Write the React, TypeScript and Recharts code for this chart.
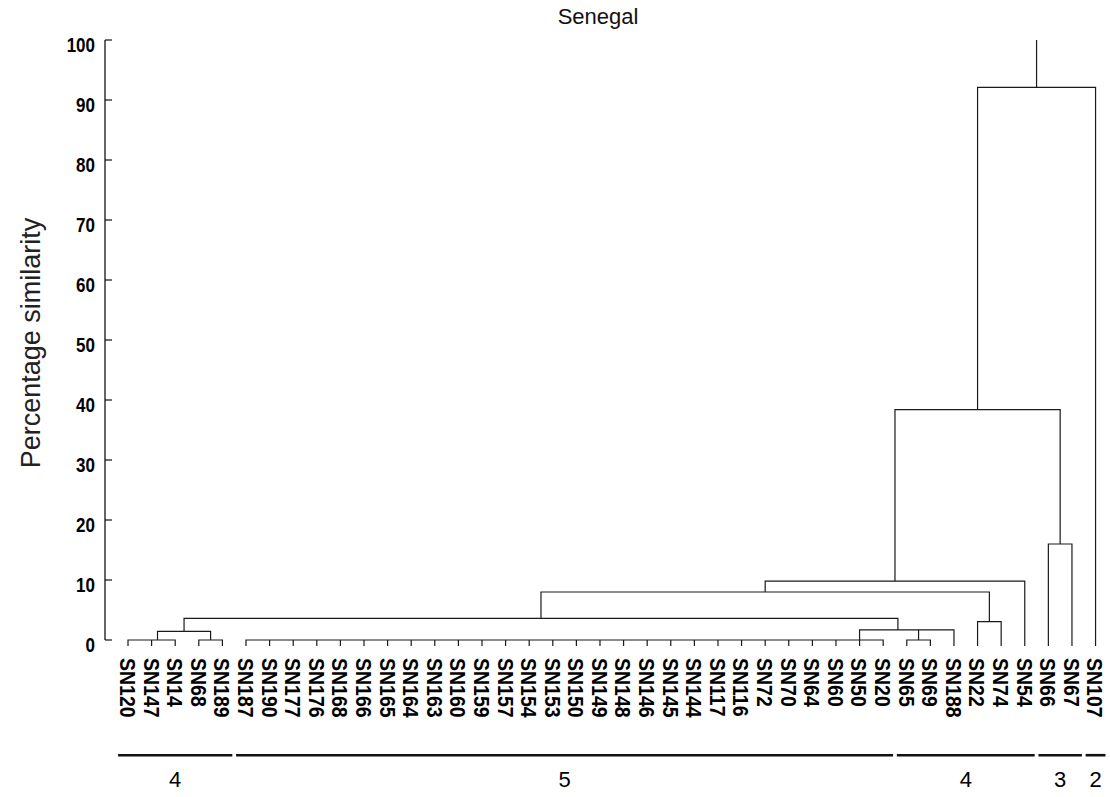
import { LineChart, Line, XAxis, YAxis, ReferenceLine } from 'recharts';

// leaf order along the bottom of the dendrogram
const leaves = [
  'SN120', 'SN147', 'SN14', 'SN68', 'SN189',
  'SN187', 'SN190', 'SN177', 'SN176', 'SN168', 'SN166', 'SN165', 'SN164', 'SN163', 'SN160',
  'SN159', 'SN157', 'SN154', 'SN153', 'SN150', 'SN149', 'SN148', 'SN146', 'SN145', 'SN144',
  'SN117', 'SN116', 'SN72', 'SN70', 'SN64', 'SN60', 'SN50', 'SN20',
  'SN65', 'SN69', 'SN188', 'SN22', 'SN74', 'SN54', 'SN66', 'SN67', 'SN107',
];

// merges: [left, right, similarity %]; '#k' refers to the k-th merge
const merges: [string, string, number][] = [
  ['SN120', 'SN147', 0], // 0
  ['#0', 'SN14', 0],
  ['SN68', 'SN189', 0],
  ['#1', '#2', 1.45],
  ['SN187', 'SN190', 0], // 4
  ['#4', 'SN177', 0],
  ['#5', 'SN176', 0],
  ['#6', 'SN168', 0],
  ['#7', 'SN166', 0],
  ['#8', 'SN165', 0],
  ['#9', 'SN164', 0],
  ['#10', 'SN163', 0],
  ['#11', 'SN160', 0],
  ['#12', 'SN159', 0],
  ['#13', 'SN157', 0],
  ['#14', 'SN154', 0],
  ['#15', 'SN153', 0],
  ['#16', 'SN150', 0],
  ['#17', 'SN149', 0],
  ['#18', 'SN148', 0],
  ['#19', 'SN146', 0],
  ['#20', 'SN145', 0],
  ['#21', 'SN144', 0],
  ['#22', 'SN117', 0],
  ['#23', 'SN116', 0],
  ['#24', 'SN72', 0],
  ['#25', 'SN70', 0],
  ['#26', 'SN64', 0],
  ['#27', 'SN60', 0],
  ['#28', 'SN50', 0],
  ['#29', 'SN20', 0], // 30
  ['SN65', 'SN69', 0],
  ['#31', 'SN188', 1.7],
  ['#30', '#32', 1.7],
  ['#3', '#33', 3.6],
  ['SN22', 'SN74', 3.05], // 35
  ['#34', '#35', 8.0],
  ['#36', 'SN54', 9.8],
  ['SN66', 'SN67', 16.0],
  ['#37', '#38', 38.4],
  ['#39', 'SN107', 92.1], // 40
];

const rootTop = 100;
const yTicks = [0, 10, 20, 30, 40, 50, 60, 70, 80, 90, 100];

// cluster groups shown under the labels
const groupLabels = ['4', '5', '4', '3', '2'];
const groupFirst = ['SN120', 'SN187', 'SN65', 'SN66', 'SN107'];
const groupLast = ['SN189', 'SN20', 'SN54', 'SN67', 'SN107'];

const LEAF_BASE = -1;
const GROUP_Y = -19.2;
const X_MIN = -0.975;
const X_MAX = 41.4;
const FONT = '"Liberation Sans", Arial, Helvetica, sans-serif';

function buildSegments() {
  const pos: Record<string, { x: number; h: number }> = {};
  leaves.forEach((l, i) => (pos[l] = { x: i, h: LEAF_BASE }));
  const pts: { x: number; y: number | null }[] = [];
  merges.forEach(([a, b, h], k) => {
    const A = pos[a];
    const B = pos[b];
    pts.push({ x: A.x, y: A.h }, { x: A.x, y: h }, { x: B.x, y: h }, { x: B.x, y: B.h }, { x: B.x, y: null });
    pos['#' + k] = { x: (A.x + B.x) / 2, h };
  });
  const root = pos['#' + (merges.length - 1)];
  pts.push({ x: root.x, y: root.h }, { x: root.x, y: rootTop });
  return pts;
}

const segments = buildSegments();

function LeafTick(props: any) {
  const { x, y, payload } = props;
  const label = leaves[payload.value];
  return (
    <text
      transform={`translate(${x},${y}) rotate(90) scale(1,1.15)`}
      dy="0.36em"
      textAnchor="start"
      fontFamily={FONT}
      fontWeight="bold"
      fontSize={19.5}
      fill="#000"
    >
      {label}
    </text>
  );
}

function PctTick(props: any) {
  const { x, y, payload } = props;
  const axisX = x + 10;
  return (
    <g>
      <line x1={axisX} x2={axisX + 7} y1={y} y2={y} stroke="#111" strokeWidth={1.2} />
      <text
        transform={`translate(${x},${y + 5}) scale(1,1.15)`}
        dy="0.355em"
        textAnchor="end"
        fontFamily={FONT}
        fontWeight="bold"
        fontSize={17}
        fill="#000"
      >
        {payload.value}
      </text>
    </g>
  );
}

function AxisTitle(props: any) {
  const { viewBox } = props;
  const cx = 40;
  const cy = viewBox.y + viewBox.height / 2;
  return (
    <text
      x={cx}
      y={cy}
      transform={`rotate(-90, ${cx}, ${cy})`}
      textAnchor="middle"
      fontFamily={FONT}
      fontSize={27}
      fill="#222"
    >
      Percentage similarity
    </text>
  );
}

function GroupLabel(props: any) {
  const { viewBox, value } = props;
  return (
    <text
      x={viewBox.x + viewBox.width / 2}
      y={viewBox.y + 32}
      textAnchor="middle"
      fontFamily={FONT}
      fontSize={22}
      fill="#000"
    >
      {value}
    </text>
  );
}

export default function App() {
  return (
    <div style={{ position: 'absolute', left: 0, top: 0, width: 1110, height: 797, background: '#fff' }}>
      <div
        style={{
          position: 'absolute',
          left: 0,
          width: 1196,
          top: 4,
          textAlign: 'center',
          fontFamily: FONT,
          fontSize: 22,
          color: '#111',
        }}
      >
        Senegal
      </div>
      <LineChart width={1110} height={797} margin={{ top: 40, right: 5, bottom: 0, left: 0 }}>
        <XAxis
          type="number"
          dataKey="x"
          domain={[X_MIN, X_MAX]}
          ticks={leaves.map((_, i) => i)}
          interval={0}
          tick={<LeafTick />}
          tickLine={false}
          axisLine={false}
          tickMargin={6}
          height={151}
          allowDataOverflow
        />
        <YAxis
          type="number"
          domain={[LEAF_BASE, 100]}
          ticks={yTicks}
          interval={0}
          width={105}
          axisLine={false}
          tickLine={false}
          tickMargin={4}
          tick={<PctTick />}
          label={<AxisTitle />}
        />
        <ReferenceLine
          segment={[{ x: X_MIN, y: 0 }, { x: X_MIN, y: 100 }]}
          stroke="#111"
          strokeWidth={1.3}
          ifOverflow="visible"
        />
        {groupLabels.map((g, i) => (
          <ReferenceLine
            key={i}
            segment={[
              { x: leaves.indexOf(groupFirst[i]) - 0.42, y: GROUP_Y },
              { x: leaves.indexOf(groupLast[i]) + 0.42, y: GROUP_Y },
            ]}
            stroke="#111"
            strokeWidth={2.6}
            ifOverflow="visible"
            label={<GroupLabel value={g} />}
          />
        ))}
        <Line
          data={segments}
          dataKey="y"
          type="linear"
          stroke="#1a1a1a"
          strokeWidth={1.2}
          dot={false}
          activeDot={false}
          connectNulls={false}
          isAnimationActive={false}
        />
      </LineChart>
    </div>
  );
}
